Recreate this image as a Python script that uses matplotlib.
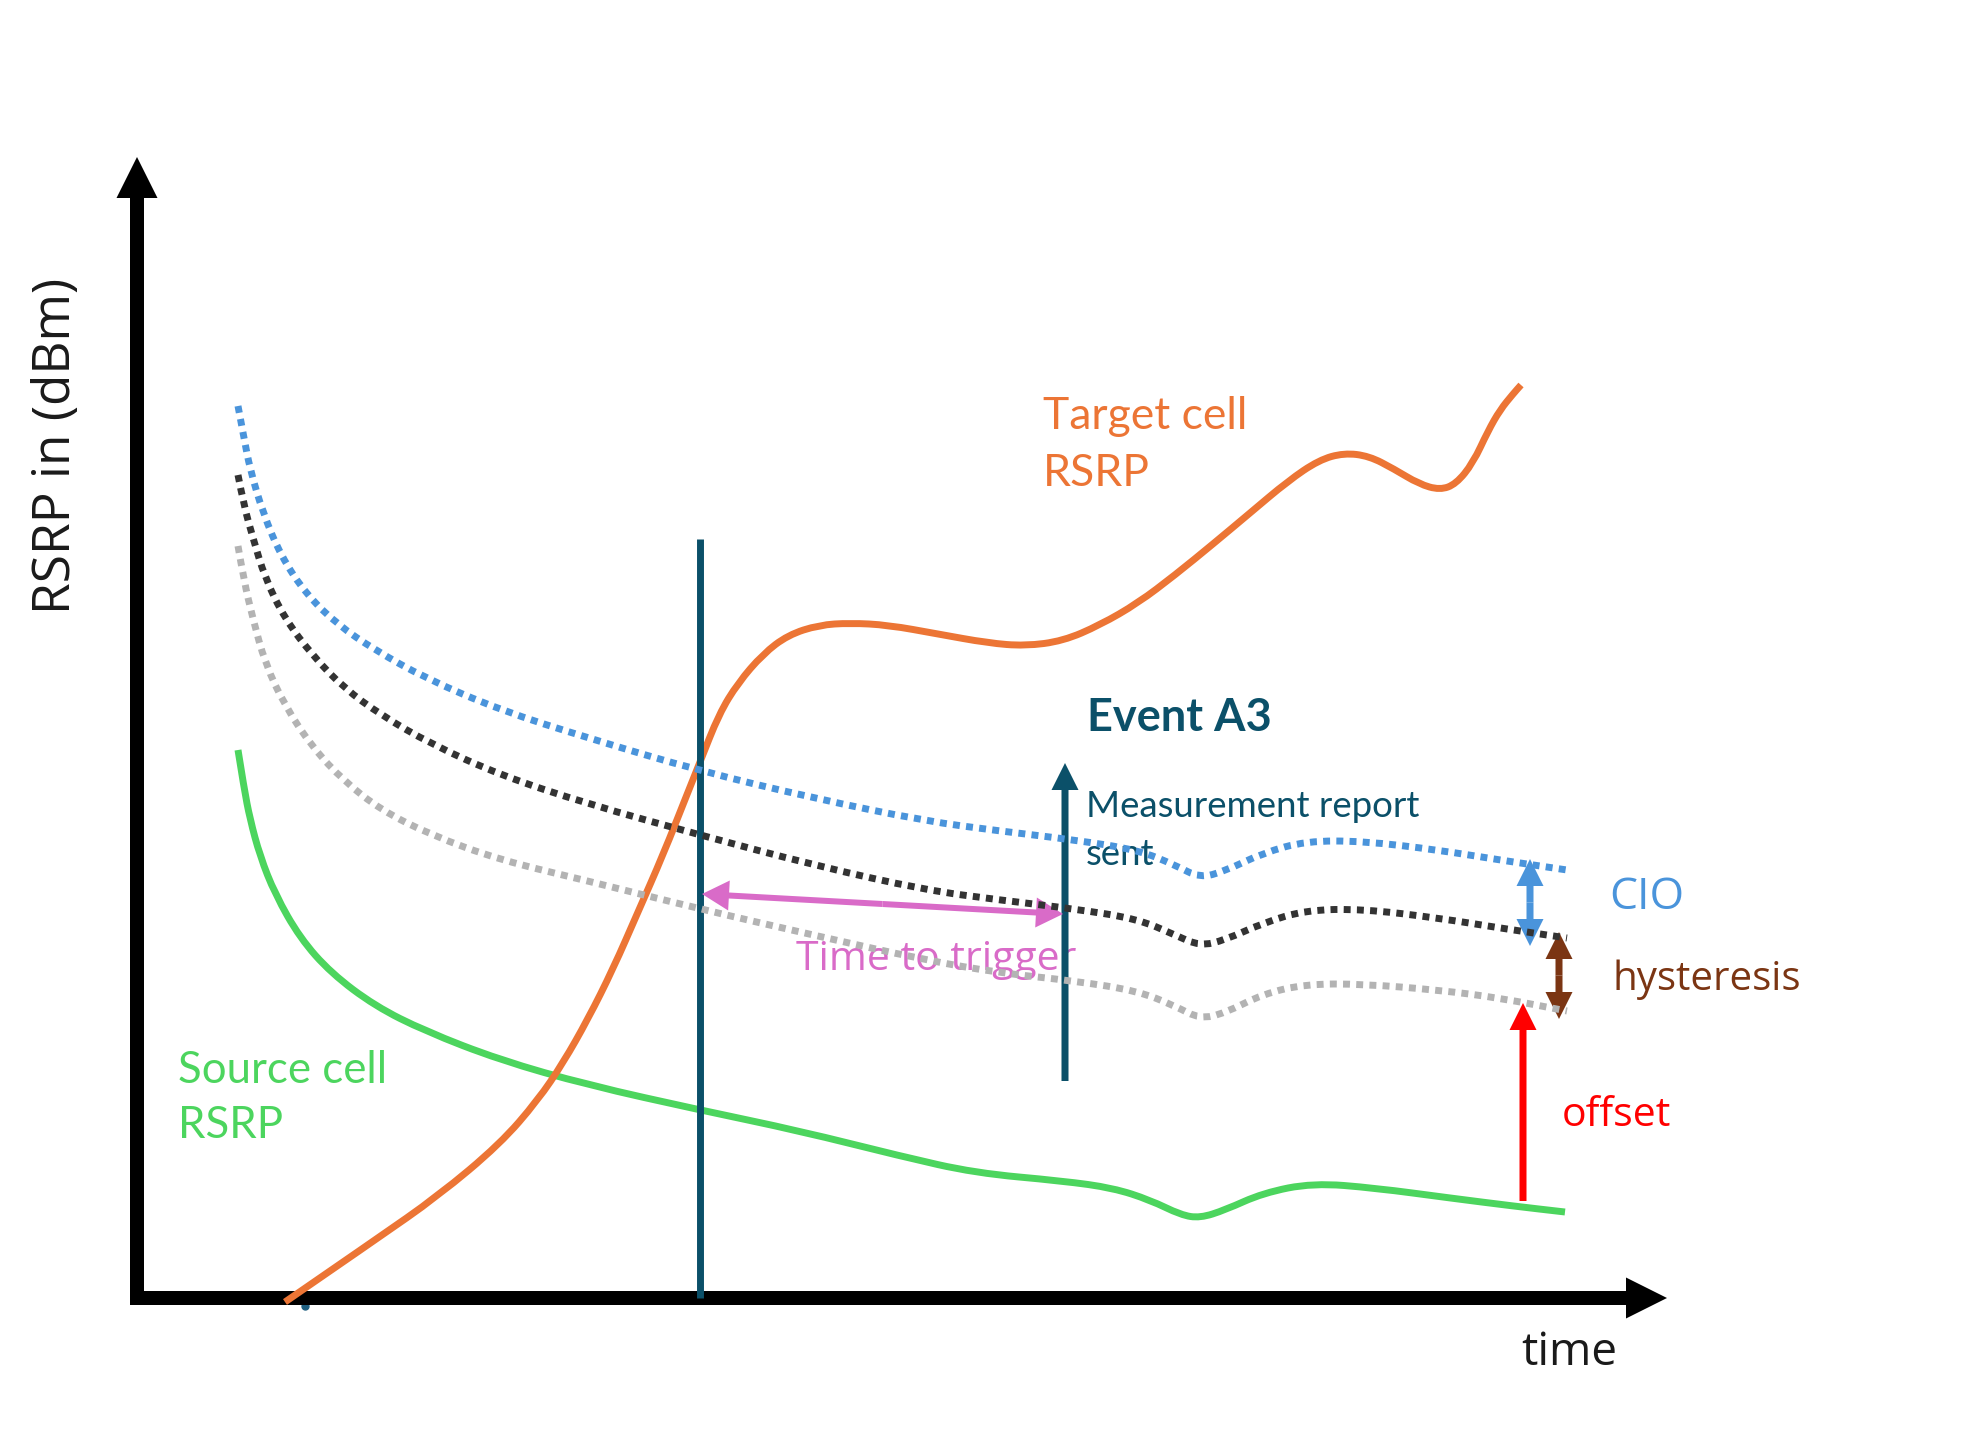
import matplotlib.pyplot as plt
from matplotlib.path import Path
from matplotlib.patches import PathPatch

# positions, in pixels (x to the right, y downwards)
target_x = [285, 375, 438, 500, 538, 563, 588, 613, 638, 663, 688, 700, 719, 738, 763, 788, 819, 850,
            888, 938, 988, 1025, 1063, 1100, 1138, 1175, 1213, 1250, 1288, 1319, 1344, 1369, 1394, 1419,
            1440, 1456, 1473, 1488, 1500, 1513, 1521]
target_y = [1302, 1240, 1196, 1144, 1100, 1063, 1019, 969, 912, 855, 792, 762, 714, 683, 654, 635, 625, 623,
            625, 634, 643, 646, 641, 625, 603, 575, 544, 513, 481, 460, 453, 456, 469, 484,
            490, 484, 463, 431, 410, 394, 385]

source_x = [238, 244, 250, 260, 275, 300, 331, 375, 425, 500, 588, 700, 800, 900, 975, 1063, 1113, 1150,
            1181, 1200, 1225, 1263, 1313, 1375, 1450, 1513, 1565]
source_y = [750, 788, 819, 856, 894, 938, 973, 1006, 1031, 1060, 1085, 1110, 1131, 1156, 1173, 1181, 1188, 1200,
            1215, 1218, 1210, 1193, 1183, 1188, 1198, 1206, 1212]

cio_x = [238, 244, 250, 263, 281, 306, 338, 375, 425, 500, 588, 700, 813, 925, 1000, 1075, 1138, 1175,
         1200, 1225, 1263, 1306, 1363, 1438, 1500, 1567]
cio_y = [406, 438, 469, 513, 556, 594, 625, 650, 678, 710, 738, 771, 798, 821, 831, 840, 850, 865,
         878, 871, 853, 841, 841, 850, 860, 870]

hys_x = [238, 244, 253, 265, 285, 313, 344, 381, 431, 500, 588, 700, 813, 925, 1000, 1075, 1138, 1175,
         1200, 1225, 1263, 1306, 1363, 1438, 1500, 1567]
hys_y = [475, 506, 538, 578, 619, 656, 688, 715, 744, 775, 804, 835, 865, 890, 900, 909, 919, 935,
         946, 940, 923, 910, 909, 918, 928, 938]

thr_x = [238, 244, 253, 265, 285, 313, 344, 381, 431, 500, 588, 700, 813, 925, 1000, 1075, 1138, 1175,
         1200, 1225, 1263, 1306, 1363, 1438, 1500, 1567]
thr_y = [546, 581, 619, 663, 706, 748, 781, 810, 835, 860, 881, 909, 935, 960, 973, 981, 991, 1006,
         1019, 1013, 994, 984, 984, 990, 998, 1011]

ORANGE = '#ec7535'
GREEN = '#4cd55e'
BLUE = '#4a94db'
DARK = '#333333'
GREY = '#b3b3b3'
TEAL = '#0b5069'
PINK = '#d96bc8'
BROWN = '#7b3513'
RED = '#ff0000'

W, H = 1961, 1431
fig = plt.figure(figsize=(W / 100, H / 100), dpi=100)
ax = fig.add_axes([0, 0, 1, 1])
ax.set_xlim(0, W)
ax.set_ylim(H, 0)
ax.axis('off')


def curve(xs, ys, **kw):
    # quadratic bezier through the midpoints, read points used as control points
    verts = [(xs[0], ys[0])]
    codes = [Path.MOVETO]
    for i in range(1, len(xs) - 1):
        verts += [(xs[i], ys[i]), ((xs[i] + xs[i + 1]) / 2, (ys[i] + ys[i + 1]) / 2)]
        codes += [Path.CURVE3, Path.CURVE3]
    verts.append((xs[-1], ys[-1]))
    codes.append(Path.LINETO)
    p = PathPatch(Path(verts, codes), fill=False, **kw)
    p.set_capstyle('butt')
    ax.add_patch(p)


def arrow(x0, y0, x1, y1, color, width=7, head=27, hlen=27, z=5):
    ax.arrow(x0, y0, x1 - x0, y1 - y0, width=width, head_width=head, head_length=hlen,
             length_includes_head=True, color=color, lw=0, zorder=z)


def double_arrow(x0, y0, x1, y1, color, width=7, head=27, hlen=27):
    xm, ym = (x0 + x1) / 2, (y0 + y1) / 2
    arrow(xm, ym, x0, y0, color, width, head, hlen)
    arrow(xm, ym, x1, y1, color, width, head, hlen)


# axes of the sketch
arrow(137, 1305, 137, 157, 'black', width=14, head=41, hlen=41, z=3)
arrow(132, 1298, 1667, 1298, 'black', width=14, head=41, hlen=41, z=3)

dots = dict(lw=5, linestyle=(0, (1, 0.9)), zorder=6)
curve(cio_x, cio_y, edgecolor=BLUE, **dots)
curve(hys_x, hys_y, edgecolor=DARK, **dots)
curve(thr_x, thr_y, edgecolor=GREY, **dots)

curve(source_x, source_y, edgecolor=GREEN, lw=5, zorder=4)
curve(target_x, target_y, edgecolor=ORANGE, lw=5, zorder=4)

# condition met / report sent markers
ax.plot([700, 700], [539, 1298], color=TEAL, lw=5, solid_capstyle='butt', zorder=5)
ax.plot([305], [1306], 'o', color='#1f5f80', ms=5, zorder=2)
arrow(1065, 1081, 1065, 763, TEAL)
double_arrow(702, 894, 1063, 914, PINK, width=6, head=30, hlen=27)
double_arrow(1530, 859, 1530, 946, BLUE)
double_arrow(1559, 932, 1559, 1019, BROWN)
arrow(1523, 1201, 1523, 1003, RED)

hilda = 'Lato'
segoe = 'Open Sans'
txt = dict(ha='left', va='baseline', zorder=3)
ax.text(1043, 429, 'Target cell', color=ORANGE, fontsize=32, family=hilda, **txt)
ax.text(1043, 486, 'RSRP', color=ORANGE, fontsize=32, family=hilda, **txt)
ax.text(178, 1083, 'Source cell', color=GREEN, fontsize=31.5, family=hilda, **txt)
ax.text(178, 1138, 'RSRP', color=GREEN, fontsize=31.5, family=hilda, **txt)
ax.text(1087, 731, 'Event A3', color=TEAL, fontsize=32.5, family=hilda, fontweight='bold', **txt)
ax.text(1086, 817, 'Measurement report', color=TEAL, fontsize=26.4, family=hilda, **txt)
ax.text(1086, 865, 'sent', color=TEAL, fontsize=26.4, family=hilda, **txt)
ax.text(796, 970, 'Time to trigger', color=PINK, fontsize=29.5, family=segoe, **txt)
ax.text(1609, 909, 'CIO', color=BLUE, fontsize=32, family=segoe, **txt)
ax.text(1613, 990, 'hysteresis', color=BROWN, fontsize=29, family=segoe, **txt)
ax.text(1562, 1126, 'offset', color=RED, fontsize=29.5, family=segoe, **txt)
ax.text(1521, 1365, 'time', color='#1a1a1a', fontsize=33, family=segoe, **txt)
ax.text(57, 446, 'RSRP in (dBm)', color='#1a1a1a', fontsize=37, family=segoe, rotation=90,
        ha='center', va='center')

fig.savefig('out.png', dpi=100)
